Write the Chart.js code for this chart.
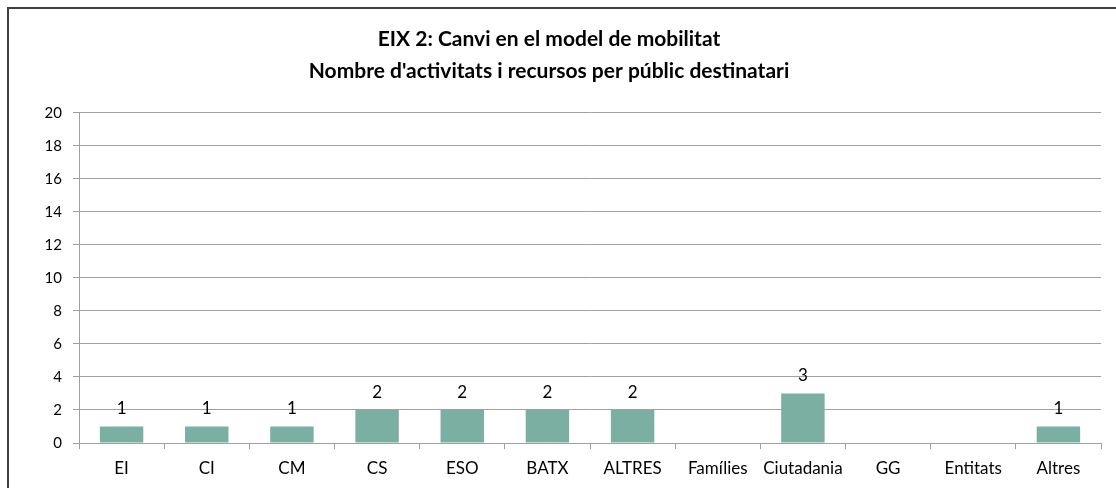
<!DOCTYPE html>
<html>
<head>
<meta charset="utf-8">
<script src="https://cdn.jsdelivr.net/npm/chart.js@4"></script>
<style>
  html, body { margin: 0; padding: 0; background: #fff; overflow: hidden; }
  #frame {
    position: absolute; left: 7px; top: 7px;
    width: 1186px; height: 520px;
    border: 2px solid #404040;
    background: #fff;
  }
  canvas { display: block; }
</style>
</head>
<body>
<div id="frame"><canvas id="grafic" width="1186" height="520"></canvas></div>
<script>
const categories = ['EI', 'CI', 'CM', 'CS', 'ESO', 'BATX', 'ALTRES', 'Famílies', 'Ciutadania', 'GG', 'Entitats', 'Altres'];
const activitats = [1, 1, 1, 2, 2, 2, 2, 0, 3, 0, 0, 1];
const titleLines = ['EIX 2: Canvi en el model de mobilitat', "Nombre d'activitats i recursos per públic destinatari"];

const FONT = 'Lato, "Open Sans", sans-serif';

// etiquetes de valor damunt de cada barra (no es mostren els zeros)
const valueLabels = {
  id: 'valueLabels',
  afterDatasetsDraw(chart) {
    const ctx = chart.ctx;
    const meta = chart.getDatasetMeta(0);
    ctx.save();
    ctx.font = '17px ' + FONT;
    ctx.fillStyle = '#000';
    ctx.textAlign = 'center';
    ctx.textBaseline = 'alphabetic';
    meta.data.forEach((bar, i) => {
      const v = activitats[i];
      if (!v) return;
      ctx.fillText(String(v), bar.x, bar.y - 12);
    });
    ctx.restore();
  }
};

new Chart(document.getElementById('grafic').getContext('2d'), {
  type: 'bar',
  data: {
    labels: categories,
    datasets: [{
      data: activitats,
      backgroundColor: '#7aafa1',
      barPercentage: 0.51,
      categoryPercentage: 1.0
    }]
  },
  options: {
    responsive: false,
    animation: false,
    layout: { padding: { left: -12, right: 94, top: 14, bottom: 46 } },
    plugins: {
      legend: { display: false },
      tooltip: { enabled: false },
      title: {
        display: true,
        text: titleLines,
        color: '#000',
        font: { family: FONT, size: 21, weight: 'bold', lineHeight: 1.54 },
        padding: { top: 0, bottom: 25 }
      }
    },
    scales: {
      x: {
        offset: true,
        grid: {
          offset: true,
          drawOnChartArea: false,
          drawTicks: true,
          tickLength: 6,
          color: '#a0a0a0'
        },
        border: { color: '#a0a0a0' },
        ticks: { color: '#000', font: { family: FONT, size: 17 }, padding: 9, maxRotation: 0, autoSkip: false },
        afterFit(scale) { scale.height = 40; }
      },
      y: {
        min: 0,
        max: 20,
        ticks: { stepSize: 2, color: '#000', font: { family: FONT, size: 15 }, padding: 11 },
        grid: { color: '#a0a0a0', tickLength: 6 },
        border: { color: '#a0a0a0' },
        afterFit(scale) { scale.width = 82; }
      }
    }
  },
  plugins: [valueLabels]
});
</script>
</body>
</html>
